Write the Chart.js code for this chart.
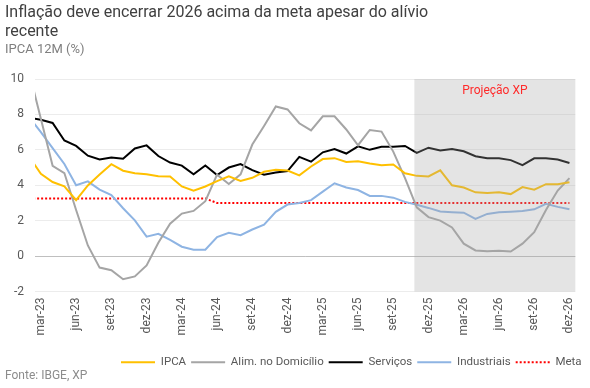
<!DOCTYPE html>
<html><head><meta charset="utf-8">
<script src="https://cdn.jsdelivr.net/npm/chart.js@4.4.1/dist/chart.umd.min.js"></script>
<style>
html,body{margin:0;padding:0;background:#fff;}
#wrap{position:relative;width:590px;height:388px;}
#footer{position:absolute;left:5px;top:368px;font:12px Roboto, sans-serif;color:#8c8c8c;}
</style></head><body>
<div id="wrap"><canvas id="c" style="width:590px;height:388px"></canvas><div id="footer">Fonte: IBGE, XP</div></div>
<script>
// Months (first one, fev-23, sits just outside the left edge of the plot)
const months = ['fev-23','mar-23','abr-23','mai-23','jun-23','jul-23','ago-23','set-23','out-23','nov-23','dez-23',
  'jan-24','fev-24','mar-24','abr-24','mai-24','jun-24','jul-24','ago-24','set-24','out-24','nov-24','dez-24',
  'jan-25','fev-25','mar-25','abr-25','mai-25','jun-25','jul-25','ago-25','set-25','out-25','nov-25','dez-25',
  'jan-26','fev-26','mar-26','abr-26','mai-26','jun-26','jul-26','ago-26','set-26','out-26','nov-26','dez-26'];
const tickLabels = ['mar-23','jun-23','set-23','dez-23','mar-24','jun-24','set-24','dez-24',
  'mar-25','jun-25','set-25','dez-25','mar-26','jun-26','set-26','dez-26'];
const ipca = [5.6, 4.65, 4.18, 3.94, 3.16, 3.99, 4.61, 5.19, 4.82, 4.68, 4.62, 4.51, 4.50, 3.93, 3.69, 3.93,
  4.23, 4.50, 4.24, 4.42, 4.76, 4.87, 4.83, 4.56, 5.06, 5.48, 5.53, 5.32, 5.35, 5.23, 5.13, 5.17,
  4.68, 4.53, 4.50, 4.84, 4.0, 3.87, 3.6, 3.56, 3.6, 3.5, 3.9, 3.75, 4.06, 4.06, 4.17];
const alimDomicilio = [10.4, 7.75, 5.1, 4.69, 2.6, 0.6, -0.65, -0.8, -1.31, -1.15, -0.53, 0.75, 1.83, 2.4, 2.55, 3.1,
  4.6, 4.07, 4.62, 6.3, 7.35, 8.45, 8.28, 7.5, 7.1, 7.89, 7.89, 7.15, 6.26, 7.12, 7.03, 5.9,
  4.4, 2.75, 2.2, 2.0, 1.62, 0.7, 0.32, 0.28, 0.3, 0.26, 0.7, 1.35, 2.6, 3.7, 4.4];
const servicos = [7.8, 7.7, 7.52, 6.53, 6.22, 5.67, 5.45, 5.57, 5.5, 6.08, 6.25, 5.65, 5.28, 5.11, 4.62, 5.12,
  4.58, 5.0, 5.2, 4.85, 4.59, 4.72, 4.8, 5.6, 5.33, 5.86, 6.05, 5.79, 6.2, 6.0, 6.17, 6.17,
  6.22, 5.83, 6.12, 5.96, 6.04, 5.92, 5.64, 5.52, 5.52, 5.42, 5.14, 5.52, 5.52, 5.45, 5.26];
const industriais = [7.85, 7.0, 6.1, 5.2, 4.0, 4.22, 3.75, 3.45, 2.7, 2.02, 1.1, 1.26, 0.91, 0.53, 0.36, 0.36,
  1.07, 1.31, 1.18, 1.5, 1.77, 2.5, 2.91, 3.0, 3.16, 3.64, 4.11, 3.87, 3.73, 3.4, 3.4, 3.3,
  3.06, 2.9, 2.72, 2.52, 2.48, 2.45, 2.1, 2.38, 2.47, 2.51, 2.54, 2.64, 2.95, 2.78, 2.64];
const meta = [3.25, 3.25, 3.25, 3.25, 3.25, 3.25, 3.25, 3.25, 3.25, 3.25, 3.25, 3.25, 3.25, 3.25, 3.25, 3.25,
  3.0, 3.0, 3.0, 3.0, 3.0, 3.0, 3.0, 3.0, 3.0, 3.0, 3.0, 3.0, 3.0, 3.0, 3.0, 3.0,
  3.0, 3.0, 3.0, 3.0, 3.0, 3.0, 3.0, 3.0, 3.0, 3.0, 3.0, 3.0, 3.0, 3.0, 3.0];
const projectionStart = 31.8; // months after mar-23 where the XP projection begins
const yTicks = [-2, 0, 2, 4, 6, 8, 10];

const xIndex = months.map((m, i) => i - 1);
const tickIdx = tickLabels.map(l => months.indexOf(l) - 1);

const projection = {
  id: 'projection',
  afterDatasetsDraw(chart) {
    const {ctx, chartArea: a, scales: {x}} = chart;
    const x0 = x.getPixelForValue(projectionStart);
    ctx.save();
    ctx.fillStyle = 'rgba(165,165,165,0.3)';
    ctx.fillRect(x0, a.top, a.right - x0, a.bottom - a.top);
    ctx.fillStyle = '#ff2a2a';
    ctx.font = '12px Roboto';
    ctx.textAlign = 'center';
    ctx.textBaseline = 'middle';
    ctx.fillText('Projeção XP', (x0 + a.right) / 2, a.top + 12);
    ctx.restore();
  }
};
const legendShift = {
  id: 'legendShift',
  afterLayout(chart) {
    const lg = chart.legend;
    lg.left = 116;
    lg.right = 605;
  }
};

function ds(label, data, color, extra) {
  return Object.assign({label, data, borderColor: color, backgroundColor: color, borderWidth: 2,
    pointRadius: 0, pointHoverRadius: 0, tension: 0, fill: false}, extra || {});
}

new Chart(document.getElementById('c'), {
  type: 'line',
  data: {
    labels: xIndex,
    datasets: [
      ds('IPCA', ipca, '#ffc000'),
      ds('Alim. no Domicílio', alimDomicilio, '#a5a5a5'),
      ds('Serviços', servicos, '#000000'),
      ds('Industriais', industriais, '#8eb4e3'),
      ds('Meta', meta, '#ff0000', {borderDash: [2, 2]})
    ]
  },
  options: {
    responsive: false,
    animation: false,
    layout: {padding: {left: 5, right: 13, top: 0, bottom: 10}},
    plugins: {
      title: {display: true, align: 'start', color: '#404040',
        text: ['Inflação deve encerrar 2026 acima da meta apesar do alívio', 'recente'],
        font: {family: 'Roboto', size: 16, weight: 'normal', lineHeight: 1.2},
        padding: {top: 3, bottom: 1}},
      subtitle: {display: true, align: 'start', color: '#7f7f7f', text: 'IPCA 12M (%)',
        font: {family: 'Roboto', size: 13, lineHeight: 1.2}, padding: {top: 0, bottom: 21}},
      legend: {position: 'bottom', align: 'start',
        labels: {usePointStyle: true, pointStyle: 'line', pointStyleWidth: 34, boxWidth: 34, boxHeight: 12,
          padding: 5, color: '#595959', font: {family: 'Roboto', size: 11.5},
          generateLabels: chart => Chart.defaults.plugins.legend.labels.generateLabels(chart).map(l => {
            const d = chart.data.datasets[l.datasetIndex];
            l.lineDash = d.borderDash || [];
            l.lineWidth = d.borderWidth;
            l.strokeStyle = d.borderColor;
            return l;
          })}},
      tooltip: {enabled: false}
    },
    scales: {
      x: {type: 'linear', min: -0.5, max: 45.5,
        afterBuildTicks: s => { s.ticks = tickIdx.map(v => ({value: v})); },
        afterFit: s => { s.height = 60; },
        grid: {display: false, drawTicks: false}, border: {display: false},
        ticks: {autoSkip: false, maxRotation: 90, minRotation: 90, padding: 6, color: '#595959',
          font: {family: 'Roboto', size: 12},
          callback: v => months[v + 1]}},
      y: {min: -2, max: 10,
        afterBuildTicks: s => { s.ticks = yTicks.map(v => ({value: v})); },
        afterFit: s => { s.width = 30; },
        grid: {drawTicks: false, color: c => (c.tick && c.tick.value === 0) ? '#bfbfbf' : '#ececec', lineWidth: 1},
        border: {display: false},
        ticks: {padding: 11, color: '#595959', font: {family: 'Roboto', size: 12}}}
    }
  },
  plugins: [projection, legendShift]
});
</script>
</body></html>
